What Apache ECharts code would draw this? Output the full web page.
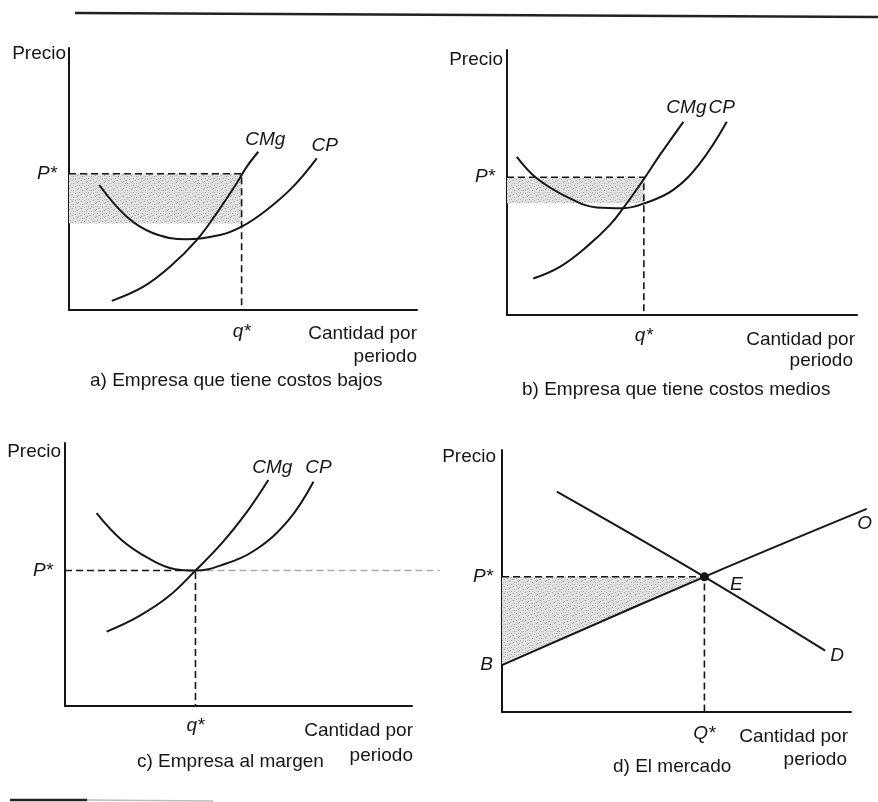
<!DOCTYPE html>
<html>
<head>
<meta charset="utf-8">
<title>Costos y mercado</title>
<script src="https://cdn.jsdelivr.net/npm/echarts@6/dist/echarts.min.js"></script>
<style>
html, body { margin: 0; padding: 0; background: #fff; }
#chart { width: 878px; height: 802px; }
</style>
</head>
<body>
<div id="chart"></div>
<script>
// all axes run 0..100 in both directions

// a) Empresa que tiene costos bajos
let a_precio = 52;      // P*
let a_cantidad = 49.6;  // q*
let a_cpEnQ = 33;       // bottom of shaded profit
let a_cp_x = [8.7, 16.6, 24.1, 33.8, 43.4, 49.6, 56.8, 64.4, 71.2];
let a_cp_y = [47.7, 35.6, 29.4, 27.0, 28.6, 31.8, 38.2, 47.1, 57.9];
let a_cmg_x = [12.3, 21.4, 29.0, 36.7, 42.4, 48.2, 51.1, 54.4];
let a_cmg_y = [3.5, 8.9, 16.5, 26.7, 36.9, 48.4, 54.7, 60.4];

// b) Empresa que tiene costos medios
let b_precio = 52;
let b_cantidad = 39.1;
let b_cpEnQ = 42.2;
let b_cp_x = [2.8, 8.5, 17.1, 25.6, 33.2, 39.4, 47.5, 55.1, 62.8];
let b_cp_y = [59.7, 51.6, 44.6, 40.6, 40.3, 42.2, 47.2, 57.2, 72.9];
let b_cmg_x = [7.5, 15.1, 22.8, 29.4, 33.2, 38.9, 43.7, 50.4];
let b_cmg_y = [13.8, 18.2, 25.8, 34.0, 40.3, 50.9, 60.4, 72.9];

// c) Empresa al margen
let c_precio = 51.5;
let c_cantidad = 37.6;
let c_precioHasta = 108; // faint dashed P* line running on to the right
let c_cp_x = [9.1, 16.3, 24.0, 31.7, 37.6, 45.2, 54.8, 64.4, 71.6];
let c_cp_y = [73.3, 63.1, 56.2, 52.0, 51.5, 53.6, 59.3, 70.7, 85.3];
let c_cmg_x = [12.0, 21.1, 29.8, 37.6, 45.2, 52.8, 58.6];
let c_cmg_y = [28.3, 34.0, 41.6, 51.5, 61.9, 74.5, 85.9];

// d) El mercado
let d_precio = 51.6;    // P*
let d_cantidad = 58;    // Q*
let d_b = 17.9;         // B
let d_oferta_x = [0, 58, 104.5];
let d_oferta_y = [17.9, 51.6, 77.5];
let d_demanda_x = [15.7, 58, 92.6];
let d_demanda_y = [84.1, 51.6, 23.4];

const FONT = "'Liberation Sans', Arial, Helvetica, sans-serif";
const INK = '#161616';

// stippled grey like the printed screen
function stipple() {
    let c = document.createElement('canvas');
    c.width = 9; c.height = 7;
    let g = c.getContext('2d');
    g.fillStyle = '#e3e3e3';
    g.fillRect(0, 0, 9, 7);
    g.fillStyle = '#a4a4a4';
    [[1, 1], [5, 0], [7, 3], [3, 4], [0, 5], [6, 6]].forEach(p => g.fillRect(p[0], p[1], 1, 1));
    g.fillStyle = '#c4c4c4';
    [[3, 1], [8, 1], [1, 3], [5, 3], [4, 6], [8, 5]].forEach(p => g.fillRect(p[0], p[1], 1, 1));
    return { image: c, repeat: 'repeat' };
}
const SHADE = stipple();

// 0..3 are the visible panels; 4 and 5 are wider hidden twins of c and d
// (same scale) so lines may run past the end of the x axis as in the book
let grids = [
    { left: 69, top: 48, width: 348, height: 262 },
    { left: 507, top: 50, width: 350, height: 265 },
    { left: 65, top: 443, width: 347, height: 263 },
    { left: 502, top: 450, width: 349, height: 262 },
    { left: 65, top: 443, width: 347 * 1.2, height: 263 },
    { left: 502, top: 450, width: 349 * 1.07, height: 262 }
];

function labelStyle(extra) {
    return Object.assign({ color: INK, fontFamily: FONT, fontSize: 19, fontStyle: 'italic' }, extra);
}

function makeAxis(idx, values, names, margin) {
    return {
        gridIndex: idx, type: 'value', min: 0, max: 100,
        axisLine: { show: true, onZero: false, lineStyle: { color: INK, width: 2 } },
        axisTick: { show: false },
        splitLine: { show: false },
        axisLabel: labelStyle({
            customValues: values, margin: margin,
            formatter: v => names[values.indexOf(v)]
        })
    };
}

function hiddenAxis(idx, max) {
    return { gridIndex: idx, type: 'value', min: 0, max: max, show: false, splitLine: { show: false } };
}

// curve with its name written at the last point
function curve(idx, name, xs, ys, lab) {
    let data = xs.map((x, i) => [x, ys[i]]);
    let last = data.length - 1;
    data[last] = { value: data[last], label: labelStyle(Object.assign({ show: true, formatter: name }, lab)) };
    return {
        type: 'line', name: name, xAxisIndex: idx, yAxisIndex: idx,
        data: data, smooth: 0.4, symbol: 'circle', symbolSize: 0, showSymbol: true,
        clip: false, z: 4,
        lineStyle: { color: INK, width: 2 }
    };
}

function dashed(idx, pts, color) {
    return {
        type: 'line', xAxisIndex: idx, yAxisIndex: idx, data: pts,
        symbol: 'none', clip: false, z: 3,
        lineStyle: { color: color || INK, width: 1.6, type: [7, 4] }
    };
}

function shade(idx, pts) {
    return {
        type: 'custom', xAxisIndex: idx, yAxisIndex: idx, data: [[0, 0]], silent: true, z: 1,
        renderItem: function (params, api) {
            return {
                type: 'polygon',
                shape: { points: pts.map(p => api.coord(p)) },
                style: { fill: SHADE }
            };
        }
    };
}

function txt(x, y, s, align) {
    return {
        type: 'text', x: x, y: y,
        style: { text: s, align: align || 'left', verticalAlign: 'middle', fontFamily: FONT, fontSize: 19, fill: INK }
    };
}

let series = [
    // a
    shade(0, [[0, a_cpEnQ], [a_cantidad, a_cpEnQ], [a_cantidad, a_precio], [0, a_precio]]),
    dashed(0, [[0, a_precio], [a_cantidad, a_precio], [a_cantidad, 0]]),
    curve(0, 'CP', a_cp_x, a_cp_y, { position: 'top', distance: 5, offset: [8, 2] }),
    curve(0, 'CMg', a_cmg_x, a_cmg_y, { position: 'top', distance: 5, offset: [7, 2] }),
    // b
    shade(1, [[0, b_cpEnQ], [b_cantidad, b_cpEnQ], [b_cantidad, b_precio], [0, b_precio]]),
    dashed(1, [[0, b_precio], [b_cantidad, b_precio], [b_cantidad, 0]]),
    curve(1, 'CP', b_cp_x, b_cp_y, { position: 'top', distance: 5, offset: [-5, 0] }),
    curve(1, 'CMg', b_cmg_x, b_cmg_y, { position: 'top', distance: 5, offset: [3, 0] }),
    // c
    dashed(2, [[0, c_precio], [c_cantidad, c_precio], [c_cantidad, 0]]),
    dashed(4, [[c_cantidad, c_precio], [c_precioHasta, c_precio]], '#ababab'),
    curve(2, 'CP', c_cp_x, c_cp_y, { position: 'top', distance: 5, offset: [5, 1] }),
    curve(2, 'CMg', c_cmg_x, c_cmg_y, { position: 'top', distance: 5, offset: [4, 2] }),
    // d
    shade(3, [[0, d_precio], [d_cantidad, d_precio], [0, d_b]]),
    dashed(3, [[0, d_precio], [d_cantidad, d_precio], [d_cantidad, 0]]),
    curve(5, 'O', d_oferta_x, d_oferta_y, { position: 'bottom', distance: 5, offset: [-2, 0] }),
    curve(3, 'D', d_demanda_x, d_demanda_y, { position: 'right', distance: 5, offset: [0, 5] }),
    {
        type: 'scatter', xAxisIndex: 3, yAxisIndex: 3, z: 5,
        data: [[d_cantidad, d_precio]], symbolSize: 9,
        itemStyle: { color: INK, opacity: 1 },
        label: labelStyle({ show: true, formatter: 'E', position: 'right', distance: 21, offset: [0, 8], opacity: 1 })
    }
];

let option = {
    animation: false,
    backgroundColor: '#fff',
    grid: grids,
    xAxis: [
        makeAxis(0, [a_cantidad], ['q*'], 12),
        makeAxis(1, [b_cantidad], ['q*'], 11),
        makeAxis(2, [c_cantidad], ['q*'], 10),
        makeAxis(3, [d_cantidad], ['Q*'], 12),
        hiddenAxis(4, 120),
        hiddenAxis(5, 107)
    ],
    yAxis: [
        makeAxis(0, [a_precio], ['P*'], 12),
        makeAxis(1, [b_precio], ['P*'], 12),
        makeAxis(2, [c_precio], ['P*'], 12),
        makeAxis(3, [d_b, d_precio], ['B', 'P*'], 9),
        hiddenAxis(4, 100),
        hiddenAxis(5, 100)
    ],
    series: series,
    graphic: [
        { type: 'line', shape: { x1: 75, y1: 13, x2: 878, y2: 17 }, style: { stroke: '#222', lineWidth: 2.5 } },
        { type: 'line', shape: { x1: 10, y1: 800, x2: 87, y2: 800 }, style: { stroke: '#222', lineWidth: 2.5 } },
        { type: 'line', shape: { x1: 87, y1: 800, x2: 213, y2: 801 }, style: { stroke: '#bbb', lineWidth: 1.5 } },
        txt(66, 54, 'Precio', 'right'),
        txt(417, 334, 'Cantidad por', 'right'),
        txt(417, 357, 'periodo', 'right'),
        txt(90, 381, 'a) Empresa que tiene costos bajos'),
        txt(503, 60, 'Precio', 'right'),
        txt(855, 340, 'Cantidad por', 'right'),
        txt(853, 361, 'periodo', 'right'),
        txt(522, 390, 'b) Empresa que tiene costos medios'),
        txt(61, 452, 'Precio', 'right'),
        txt(413, 731, 'Cantidad por', 'right'),
        txt(413, 756, 'periodo', 'right'),
        txt(137, 762, 'c) Empresa al margen'),
        txt(496, 457, 'Precio', 'right'),
        txt(848, 737, 'Cantidad por', 'right'),
        txt(847, 760, 'periodo', 'right'),
        txt(613, 767, 'd) El mercado')
    ]
};

let myChart = echarts.init(document.getElementById('chart'));
myChart.setOption(option);
</script>
</body>
</html>
